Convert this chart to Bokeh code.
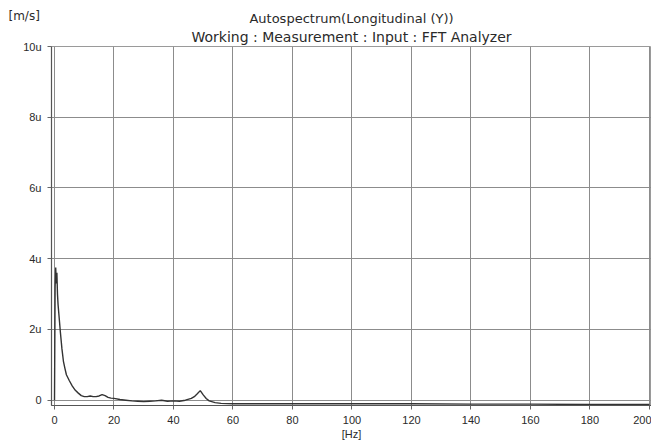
from bokeh.plotting import figure
from bokeh.models import FixedTicker, Range1d, Title
from bokeh.embed import file_html
from bokeh.resources import INLINE

# Autospectrum data (frequency in Hz, amplitude in micro m/s)
freq_hz = [0.0, 0.2, 0.4, 0.6, 0.8, 1.0, 1.2, 1.5, 2.0, 2.5, 3.0, 3.5, 4.0, 5.0, 6.0, 7.0,
           8.0, 9.0, 10.0, 11.0, 12.0, 13.0, 14.0, 15.0, 16.0, 17.0, 18.0, 19.0, 20.0, 22.0,
           24.0, 26.0, 28.0, 30.0, 32.0, 34.0, 36.0, 38.0, 40.0, 42.0, 44.0, 46.0, 47.0,
           48.0, 49.0, 50.0, 51.0, 52.0, 54.0, 56.0, 60.0, 70.0, 80.0, 100.0, 120.0, 140.0,
           160.0, 180.0, 200.0]
amp_u = [0.0, 3.2, 3.75, 3.3, 3.6, 3.0, 2.7, 2.4, 1.9, 1.45, 1.1, 0.9, 0.72, 0.55, 0.4, 0.28,
         0.2, 0.13, 0.1, 0.1, 0.12, 0.1, 0.1, 0.12, 0.16, 0.13, 0.08, 0.06, 0.05, 0.02,
         0.0, -0.02, -0.03, -0.04, -0.03, -0.02, 0.0, -0.03, -0.02, -0.03, 0.0, 0.05, 0.1,
         0.18, 0.27, 0.15, 0.05, -0.02, -0.07, -0.09, -0.1, -0.1, -0.1, -0.1, -0.1, -0.11,
         -0.11, -0.12, -0.12]
amp = [a * 1e-6 for a in amp_u]

x_ticks = [0, 20, 40, 60, 80, 100, 120, 140, 160, 180, 200]
y_ticks = [0, 2e-6, 4e-6, 6e-6, 8e-6, 10e-6]
y_tick_labels = {0: "0", 2e-6: "2u", 4e-6: "4u", 6e-6: "6u", 8e-6: "8u", 10e-6: "10u"}

FONT = "Liberation Sans"
TFONT = "DejaVu Sans"
TXT = "#2a2a2a"

p = figure(width=651, height=447, output_backend="svg", toolbar_location=None,
           x_range=Range1d(-1.01, 200.7), y_range=Range1d(-0.15e-6, 10.0e-6),
           min_border_left=51, min_border_right=0, min_border_top=46, min_border_bottom=42)
p.background_fill_color = "white"
p.border_fill_color = "white"
p.outline_line_color = "#9a9a9a"

p.line(freq_hz, amp, line_color="#333333", line_width=1.4)

p.xaxis.ticker = FixedTicker(ticks=x_ticks)
p.yaxis.ticker = FixedTicker(ticks=y_ticks)
p.yaxis.major_label_overrides = y_tick_labels
for ax in (p.xaxis, p.yaxis):
    ax.axis_line_color = "#555555"
    ax.axis_line_width = 1.2
    ax.major_tick_line_color = "#666666"
    ax.major_tick_out = 4
    ax.major_tick_in = 0
    ax.minor_tick_line_color = None
    ax.major_label_text_font = FONT
    ax.major_label_text_font_size = "11px"
    ax.major_label_text_color = TXT
p.xaxis.major_label_standoff = 6
p.yaxis.major_label_standoff = 6
p.xaxis.axis_label = "[Hz]"
p.xaxis.axis_label_text_font = FONT
p.xaxis.axis_label_text_font_size = "11px"
p.xaxis.axis_label_text_font_style = "normal"
p.xaxis.axis_label_text_color = TXT
p.xaxis.axis_label_standoff = 1

p.xgrid.ticker = FixedTicker(ticks=x_ticks)
p.ygrid.ticker = FixedTicker(ticks=y_ticks)
for g in (p.xgrid, p.ygrid):
    g.grid_line_color = "#8c8c8c"
    g.grid_line_width = 1

sub = Title(text="Working : Measurement : Input : FFT Analyzer", align="center", offset=-22,
            text_font=TFONT, text_font_size="14px", text_font_style="normal",
            text_color=TXT, standoff=3)
main = Title(text="Autospectrum(Longitudinal (Y))", align="center",
             text_font=TFONT, text_font_size="13px", text_font_style="normal",
             text_color=TXT, standoff=0)
units = Title(text="[m/s]", align="left", offset=-43,
              text_font=TFONT, text_font_size="12px", text_font_style="normal",
              text_color=TXT, standoff=-28)
p.add_layout(sub, "above")
p.add_layout(main, "above")
p.add_layout(units, "above")

open("out.html", "w").write(file_html(p, INLINE))
